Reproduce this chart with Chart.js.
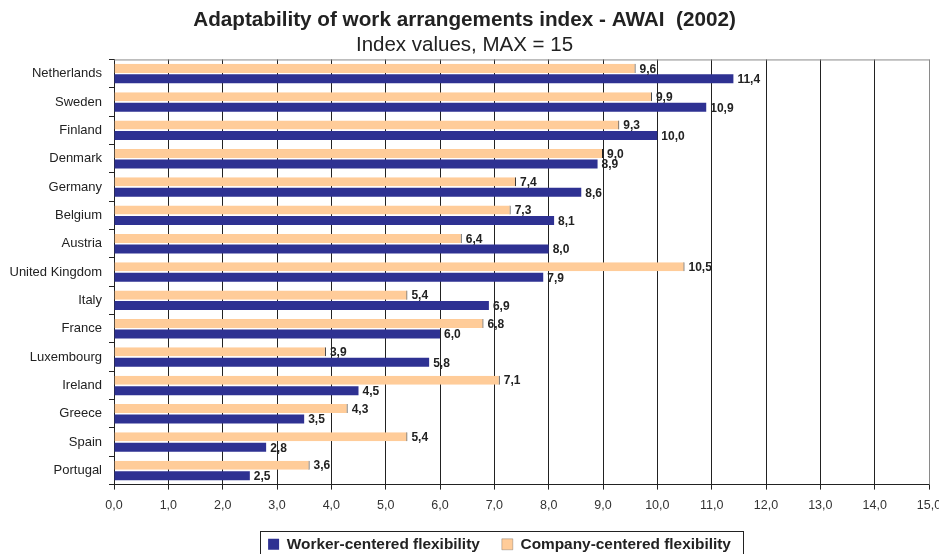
<!DOCTYPE html>
<html>
<head>
<meta charset="utf-8">
<script src="https://cdn.jsdelivr.net/npm/chart.js@4"></script>
<style>
  html, body { margin: 0; padding: 0; background: #fff; }
  #wrap { width: 939px; height: 554px; }
</style>
</head>
<body>
<div id="wrap"><canvas id="chart"></canvas></div>
<script>
const countries = [
  "Netherlands", "Sweden", "Finland", "Denmark", "Germany", "Belgium", "Austria",
  "United Kingdom", "Italy", "France", "Luxembourg", "Ireland", "Greece", "Spain", "Portugal"
];
const workerValues = [11.4, 10.9, 10.0, 8.9, 8.6, 8.1, 8.0, 7.9, 6.9, 6.0, 5.8, 4.5, 3.5, 2.8, 2.5];
const companyValues = [9.6, 9.9, 9.3, 9.0, 7.4, 7.3, 6.4, 10.5, 5.4, 6.8, 3.9, 7.1, 4.3, 5.4, 3.6];

const FONT = '"Liberation Sans", Arial, sans-serif';
const fmt = (v) => Number(v).toFixed(1).replace(".", ",");
const LEGEND_SHIFT = 35; // legend sits a bit right of centre in the original

// value labels at the end of each bar
const barLabels = {
  id: "barLabels",
  afterDatasetsDraw(chart) {
    const ctx = chart.ctx;
    ctx.save();
    ctx.font = "bold 12px " + FONT;
    ctx.fillStyle = "#222";
    ctx.textBaseline = "middle";
    chart.data.datasets.forEach((ds, i) => {
      chart.getDatasetMeta(i).data.forEach((bar, j) => {
        ctx.fillText(fmt(ds.data[j]), bar.x + 4, bar.y + 1);
      });
    });
    ctx.restore();
  }
};

// grey frame round the plot + box round the legend
const frames = {
  id: "frames",
  afterLayout(chart) {
    const lg = chart.legend;
    lg.left += LEGEND_SHIFT;
    lg.right += LEGEND_SHIFT;
    (lg.legendHitBoxes || []).forEach((b) => { b.left += LEGEND_SHIFT; });
  },
  beforeDatasetsDraw(chart) {
    const a = chart.chartArea;
    const ctx = chart.ctx;
    ctx.save();
    ctx.strokeStyle = "#8a8a8a";
    ctx.lineWidth = 1;
    ctx.beginPath();
    ctx.moveTo(a.left, a.top + 0.5);
    ctx.lineTo(a.right + 0.5, a.top + 0.5);
    ctx.lineTo(a.right + 0.5, a.bottom);
    ctx.stroke();
    ctx.restore();
  },
  afterDraw(chart) {
    const boxes = chart.legend.legendHitBoxes;
    if (!boxes || !boxes.length) return;
    const first = boxes[0];
    const last = boxes[boxes.length - 1];
    const ctx = chart.ctx;
    ctx.save();
    ctx.strokeStyle = "#222";
    ctx.lineWidth = 1;
    const left = Math.round(first.left - 8) + 0.5;
    const right = Math.round(last.left + last.width + 12) + 0.5;
    const top = Math.round(first.top - 6) + 0.5;
    ctx.strokeRect(left, top, right - left, 40);
    ctx.restore();
  }
};

new Chart(document.getElementById("chart"), {
  type: "bar",
  data: {
    labels: countries,
    datasets: [
      {
        label: "Company-centered flexibility",
        data: companyValues,
        backgroundColor: "#FFCC99",
        borderColor: "#222",
        borderWidth: { right: 1, top: 0, bottom: 0, left: 0 },
        borderSkipped: false,
        categoryPercentage: 0.74,
        barPercentage: 0.86
      },
      {
        label: "Worker-centered flexibility",
        data: workerValues,
        backgroundColor: "#2E3192",
        borderWidth: 0,
        categoryPercentage: 0.74,
        barPercentage: 0.86
      }
    ]
  },
  options: {
    indexAxis: "y",
    responsive: true,
    maintainAspectRatio: false,
    animation: false,
    layout: { padding: { left: 0, right: 10, top: 0, bottom: -8 } },
    plugins: {
      title: {
        display: true,
        text: "Adaptability of work arrangements index - AWAI  (2002)",
        color: "#222",
        font: { family: FONT, size: 20.7, weight: "bold" },
        padding: { top: 8, bottom: 0 }
      },
      subtitle: {
        display: true,
        text: "Index values, MAX = 15",
        color: "#222",
        font: { family: FONT, size: 20.5 },
        padding: { top: 0, bottom: 2 }
      },
      legend: {
        position: "bottom",
        labels: {
          color: "#222",
          font: { family: FONT, size: 15.4, weight: "bold" },
          boxWidth: 11,
          boxHeight: 11,
          padding: 22,
          sort: (a, b) => b.datasetIndex - a.datasetIndex
        }
      },
      tooltip: { enabled: false }
    },
    scales: {
      x: {
        min: 0,
        max: 15,
        ticks: {
          stepSize: 1,
          color: "#333",
          font: { family: FONT, size: 12.5 },
          padding: 8,
          callback: (v) => fmt(v)
        },
        grid: {
          color: (c) => (c.index === 15 ? "#8a8a8a" : "#222"),
          lineWidth: 1,
          tickLength: 5,
          tickColor: "#222"
        },
        border: { color: "#222" },
        afterFit: (scale) => {
          scale.height = 30;
          scale.paddingLeft = 0;
          scale.paddingRight = 0;
        }
      },
      y: {
        ticks: {
          color: "#222",
          font: { family: FONT, size: 13 },
          padding: 7
        },
        grid: {
          drawOnChartArea: false,
          tickLength: 5,
          color: "#222"
        },
        border: { color: "#222" },
        afterFit: (scale) => { scale.width = 114; }
      }
    }
  },
  plugins: [barLabels, frames]
});
</script>
</body>
</html>
